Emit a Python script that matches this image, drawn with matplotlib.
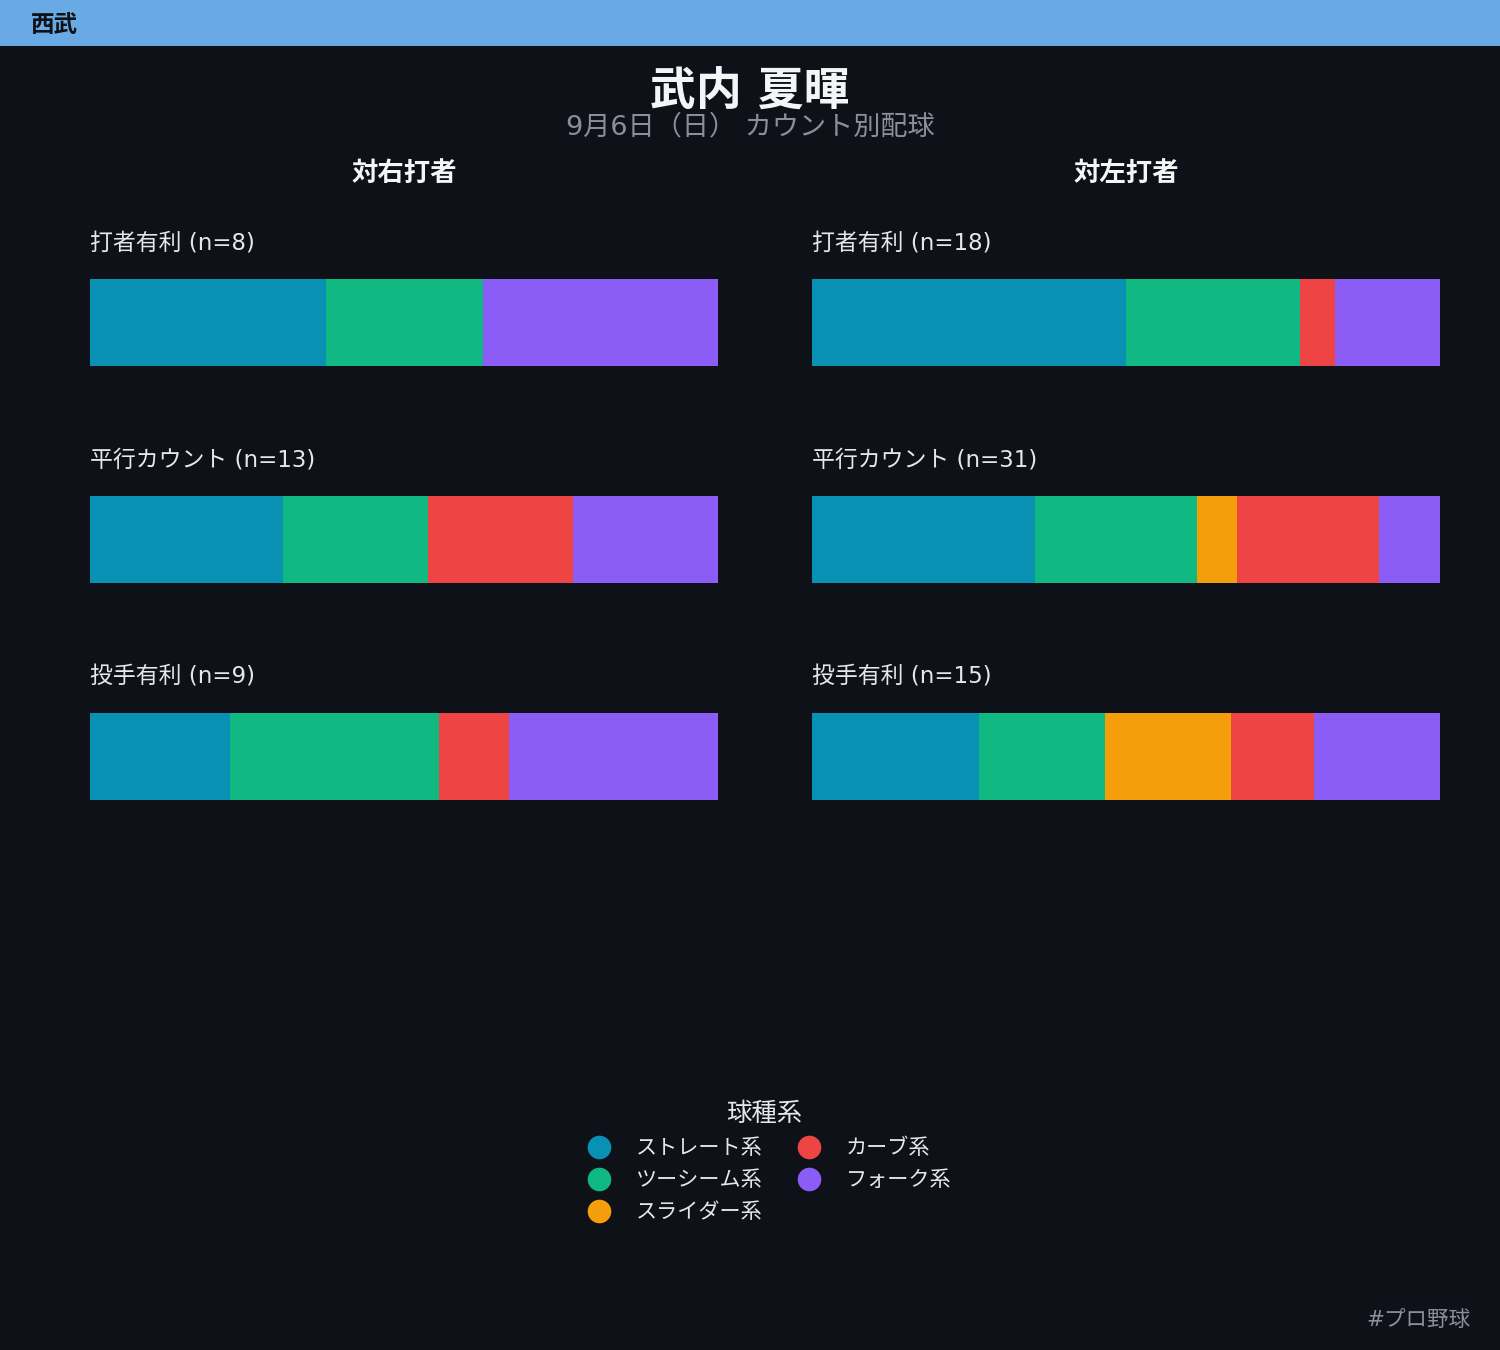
import numpy as np
import matplotlib.pyplot as plt
from matplotlib.lines import Line2D

plt.rcParams['font.family'] = ['DejaVu Sans', 'Noto Sans CJK JP']

# data
team = '西武'
pitcher = '武内 夏暉'
subtitle = '9月6日（日） カウント別配球'
sides = ['対右打者', '対左打者']
situations = ['打者有利', '平行カウント', '投手有利']
pitch_types = ['ストレート系', 'ツーシーム系', 'スライダー系', 'カーブ系', 'フォーク系']
colors = ['#0891b2', '#10b981', '#f59e0b', '#ef4444', '#8b5cf6']

# counts per situation, order of pitch_types
vs_right = [
    [3, 2, 0, 0, 3],
    [4, 3, 0, 3, 3],
    [2, 3, 0, 1, 3],
]
vs_left = [
    [9, 5, 0, 1, 3],
    [11, 8, 2, 7, 3],
    [4, 3, 3, 2, 3],
]

BG = '#0e1117'
W, H = 1500, 1350
fig = plt.figure(figsize=(15, 13.5), dpi=100, facecolor=BG)

# header band
fig.patches.append(plt.Rectangle((0, 1 - 46 / H), 1, 46 / H, transform=fig.transFigure,
                                 facecolor='#6aaae4', edgecolor='none'))
fig.text(31 / W, 1 - 25 / H, team, fontsize=17, fontweight='bold', color=BG, va='center', ha='left')

fig.text(0.5, 1 - 93 / H, pitcher, fontsize=33, fontweight='bold', color='#f4f5f7', ha='center', va='center')
fig.text(0.5, 1 - 127 / H, subtitle, fontsize=19.5, color='#8b8f99', ha='center', va='center')

bar_h = 0.4
lefts = [90, 812]
for side, data, lx in zip(sides, [vs_right, vs_left], lefts):
    ax = fig.add_axes([lx / W, 1 - 800 / H, 628 / W, 521 / H])
    ax.set_facecolor(BG)
    counts = np.array(data, dtype=float)
    totals = counts.sum(axis=1)
    shares = counts / totals[:, None]
    start = np.zeros(len(situations))
    for j, pt in enumerate(pitch_types):
        ax.barh(np.arange(len(situations)), shares[:, j], left=start, height=bar_h,
                color=colors[j], edgecolor='none')
        start += shares[:, j]
    for i, s in enumerate(situations):
        ax.text(0, i - bar_h / 2 - 36 / 217, f'{s} (n={int(totals[i])})', fontsize=16.5,
                color='#e6e7ea', ha='left', va='center')
    ax.set_xlim(0, 1)
    ax.set_ylim(2 + bar_h / 2, -bar_h / 2)
    ax.axis('off')
    fig.text((lx + 314) / W, 1 - 174 / H, side, fontsize=19, fontweight='bold',
             color='#f4f5f7', ha='center', va='center')

handles = [Line2D([], [], marker='o', linestyle='none', markersize=17, markerfacecolor=c,
                  markeredgecolor='none') for c in colors]
leg = fig.legend(handles, pitch_types, ncol=2, loc='upper center', bbox_to_anchor=(0.5097, 1 - 1083 / H),
                 frameon=False, title='球種系', fontsize=15.2, title_fontsize=18.3,
                 labelcolor='#e6e7ea', handletextpad=0.75, columnspacing=1.2, labelspacing=0.56)
leg.get_title().set_color('#e6e7ea')

fig.text(1470 / W, 1 - 1321 / H, '#プロ野球', fontsize=15.5, color='#8b8f99', ha='right', va='center')

fig.savefig('out.png', dpi=100, facecolor=BG)
